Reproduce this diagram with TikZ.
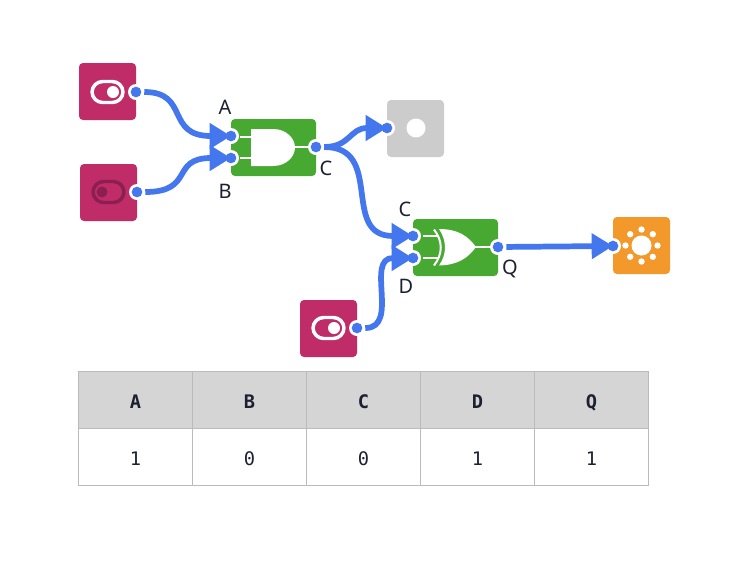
\documentclass[tikz,border=0pt]{standalone}
\usepackage{fontspec}
\setmainfont{Noto Sans}
\newfontfamily\tablefont{DejaVu Sans Mono}
\usetikzlibrary{arrows.meta}
\definecolor{wireblue}{HTML}{4477EE}
\definecolor{switchred}{HTML}{C02C68}
\definecolor{switchdark}{HTML}{8C1F50}
\definecolor{gategreen}{HTML}{47A832}
\definecolor{lampgray}{HTML}{CCCCCC}
\definecolor{lamporange}{HTML}{F3982B}
\definecolor{headgray}{HTML}{D5D5D5}
\definecolor{linegray}{HTML}{BBBBBB}
\definecolor{textdark}{HTML}{1C2030}
\tikzset{
	block/.style={inner sep=0,minimum size=42.75pt,rounded corners=3pt},
	gatebox/.style={block,minimum width=63.75pt,fill=gategreen},
	portring/.style={circle,inner sep=0,minimum size=12pt,fill=white},
	portdot/.style={circle,inner sep=0,minimum size=8pt,fill=wireblue},
	wire/.style={wireblue,line width=4.3pt,-{Triangle[length=16pt,width=18.5pt]}},
	pinlabel/.style={text=textdark,font=\fontsize{15}{17}\selectfont},
	cell/.style={draw=linegray,line width=.6pt,inner sep=0,minimum width=85.5pt,minimum height=42.75pt,text height=12.8pt,text depth=0pt,text=textdark,font=\tablefont\fontsize{14}{16}\selectfont},
	pin/.style={white,line width=1.5pt},
}
\begin{document}
\begin{tikzpicture}[x=0.75pt,y=-0.75pt]
	\useasboundingbox (0,0) rectangle (745,572);
	
	\node[block,fill=switchred] (sw1) at (107.5,91.5) {};
	\node[block,fill=switchred] (sw2) at (108.5,192.5) {};
	\node[block,fill=switchred] (sw3) at (328.5,328.5) {};
	\node[gatebox] (andgate) at (273.5,147.5) {};
	\node[gatebox] (xorgate) at (455.5,247.5) {};
	\node[block,fill=lampgray] (lamp) at (415.5,128.5) {};
	\node[block,fill=lamporange] (bulb) at (641.5,245.5) {};
	
	
	\draw[white,line width=2.6pt,fill=switchred,rounded corners=8pt] (92,81.5) rectangle (123,102.5);
	\fill[white] (113,92) circle [radius=6];
	\draw[switchdark,line width=2.6pt,rounded corners=8pt] (93,181.5) rectangle (124,202.5);
	\fill[switchdark] (102,192) circle [radius=5.5];
	\draw[white,line width=2.6pt,rounded corners=8pt] (313,317.5) rectangle (344,338.5);
	\fill[white] (334,328) circle [radius=6];
	
	
	\fill[white] (416,128) circle [radius=9.5];
	\fill[white] (641.5,245.5) circle [radius=10];
	\foreach \a in {0,45,...,315}
	{
		\fill[white] (641.5,245.5) ++(\a:16) circle [radius=3.2];
	}
	
	
	\fill[white] (251,129) -- (273,129) .. controls (287,129) and (295,139) .. (295,147.5) .. controls (295,156) and (287,166) .. (273,166) -- (251,166) -- cycle;
	\draw[pin] (240,137) -- (251,137);
	\draw[pin] (240,158) -- (251,158);
	\draw[pin] (294,147) -- (308,147);
	
	
	\fill[white] (439,229) .. controls (458,229) and (468,236) .. (476,247) .. controls (468,258) and (458,265) .. (439,265.5) .. controls (447,254) and (447,241) .. (439,229) -- cycle;
	\draw[pin] (434,229.5) .. controls (443,241) and (443,254) .. (434,265.5);
	\draw[pin] (423,236) -- (439,236);
	\draw[pin] (423,258) -- (439,258);
	\draw[pin] (475,247) -- (490,247);
	
	
	\foreach \n/\x/\y in {ps1/136/92,ps2/137/192,ps3/357/328,pa/231/136,pb/231/158,pc/316/147,pl/387/128,pxc/413/236,pxd/413/258,pq/498/247,pbulb/613/246}
	{
		\node[portring] (\n) at (\x,\y) {};
	}
	
	\draw[wire] (ps1) .. controls (190,92) and (165,136) .. (pa.center);
	\draw[wire] (ps2) .. controls (195,192) and (170,158) .. (pb.center);
	\draw[wire] (pc) .. controls (350,147) and (350,128) .. (pl.center);
	\draw[wire] (pc) .. controls (385,147) and (340,236) .. (pxc.center);
	\draw[wire] (ps3) .. controls (400,328) and (365,258) .. (pxd.center);
	\draw[wire] (pq) -- (pbulb.center);
	
	\foreach \n in {ps1,ps2,ps3,pa,pb,pc,pl,pxc,pxd,pq,pbulb}
	{
		\node[portdot] (dot\n) at (\n) {};
	}
	
	
	\node[pinlabel] (la) at (225,107) {A};
	\node[pinlabel] (lb) at (225,191.5) {B};
	\node[pinlabel] (lc) at (326,168) {C};
	\node[pinlabel] (lxc) at (405,209) {C};
	\node[pinlabel] (lxd) at (406,286) {D};
	\node[pinlabel] (lq) at (510,269) {Q};
	
	
	\foreach \i/\h/\v in {0/A/1,1/B/0,2/C/0,3/D/1,4/Q/1}
	{
		\node[cell,fill=headgray] (head\h) at (135.5+114*\i,400) {\bfseries \h};
		\node[cell] (val\h) at (135.5+114*\i,457) {\v};
	}
\end{tikzpicture}
\end{document}
